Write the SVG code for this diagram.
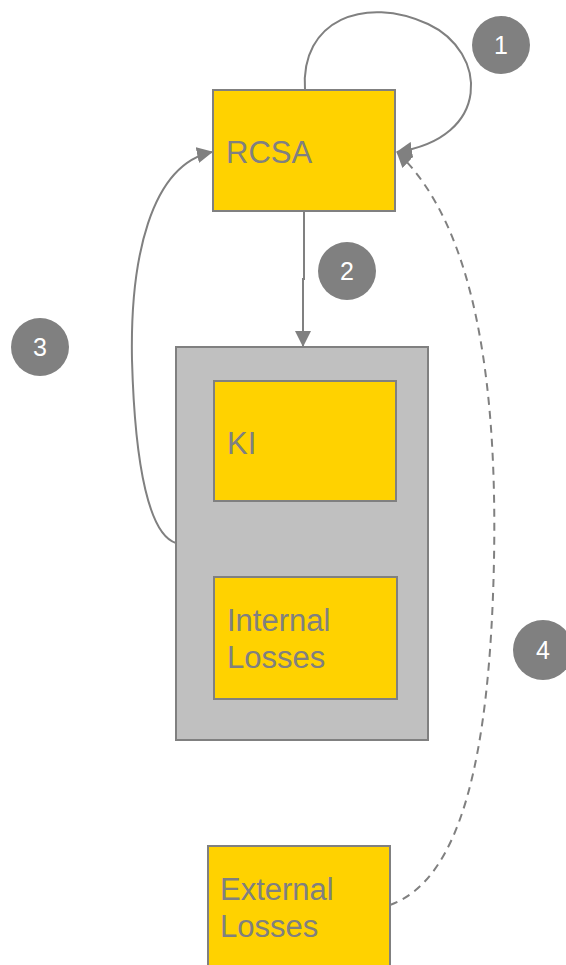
<svg xmlns="http://www.w3.org/2000/svg" width="566" height="965" viewBox="0 0 566 965">
  <style>
    .box { fill: #FFD200; stroke: #808080; stroke-width: 2; }
    .group { fill: #C0C0C0; stroke: #808080; stroke-width: 2; }
    .label { font-family: "Liberation Sans", Arial, sans-serif; font-size: 31px; fill: #808080; }
    .badge { fill: #808080; }
    .badge-text { font-family: "Liberation Sans", Arial, sans-serif; font-size: 25px; fill: #FFFFFF; text-anchor: middle; }
    .link { fill: none; stroke: #808080; stroke-width: 2; }
    .dashed { stroke-dasharray: 8 6; }
  </style>
  <defs>
    <marker id="arrow" viewBox="0 0 16 16" refX="15" refY="8" markerWidth="16" markerHeight="16" markerUnits="userSpaceOnUse" orient="auto">
      <path d="M0,0 L16,8 L0,16 z" fill="#808080"/>
    </marker>
  </defs>

  <!-- container holding KI and internal losses -->
  <g id="internal-group">
    <rect class="group" x="176" y="347" width="252" height="393"/>
  </g>

  <g id="rcsa">
    <rect class="box" x="213" y="90" width="182" height="121"/>
    <text class="label" x="226" y="163">RCSA</text>
  </g>

  <g id="ki">
    <rect class="box" x="214" y="381" width="182" height="120"/>
    <text class="label" x="227" y="454">KI</text>
  </g>

  <g id="internal-losses">
    <rect class="box" x="214" y="577" width="183" height="122"/>
    <text class="label" x="227" y="631">Internal</text>
    <text class="label" x="227" y="668">Losses</text>
  </g>

  <g id="external-losses">
    <rect class="box" x="208" y="846" width="182" height="130"/>
    <text class="label" x="220" y="900">External</text>
    <text class="label" x="220" y="937">Losses</text>
  </g>

  <!-- connectors -->
  <g id="connectors">
    <path class="link" d="M305,90 C300,20 365,-5 428,24 C488,52 492,138 397,152" marker-end="url(#arrow)"/>
    <path class="link" d="M304,211 V279 H303 V346" marker-end="url(#arrow)"/>
    <path class="link" d="M176,543 C150,535 135,470 132,360 C130,260 150,165 212,152" marker-end="url(#arrow)"/>
    <path class="link dashed" d="M390,905 C460,880 490,760 494,560 C497,400 480,230 397,152" marker-end="url(#arrow)"/>
  </g>

  <!-- numbered badges -->
  <g id="badge-1">
    <circle class="badge" cx="501" cy="45" r="29"/>
    <text class="badge-text" x="501" y="54">1</text>
  </g>
  <g id="badge-2">
    <circle class="badge" cx="347" cy="271" r="29"/>
    <text class="badge-text" x="347" y="280">2</text>
  </g>
  <g id="badge-3">
    <circle class="badge" cx="40" cy="347" r="29"/>
    <text class="badge-text" x="40" y="356">3</text>
  </g>
  <g id="badge-4">
    <circle class="badge" cx="543" cy="650" r="30"/>
    <text class="badge-text" x="543" y="659">4</text>
  </g>
</svg>
